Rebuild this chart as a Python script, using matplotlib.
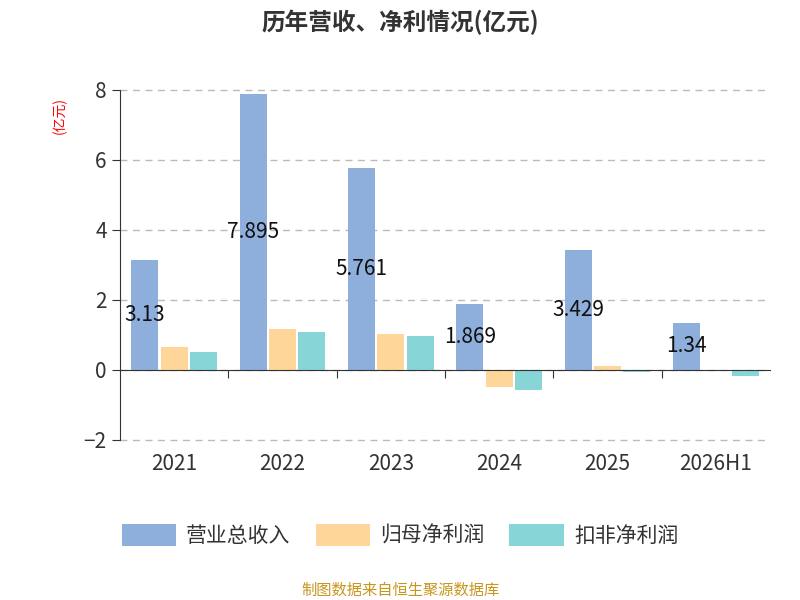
import matplotlib
matplotlib.use("Agg")
import matplotlib.pyplot as plt
import numpy as np

plt.rcParams['font.family'] = ['Noto Sans CJK SC', 'DejaVu Sans']

years = ["2021", "2022", "2023", "2024", "2025", "2026H1"]
revenue = [3.13, 7.895, 5.761, 1.869, 3.429, 1.34]
net_profit = [0.65, 1.17, 1.02, -0.48, 0.12, -0.03]
deducted = [0.52, 1.08, 0.96, -0.58, -0.05, -0.17]
series_names = ["营业总收入", "归母净利润", "扣非净利润"]
colors = ["#8eaedb", "#ffd699", "#88d5d8"]

fig = plt.figure(figsize=(8, 6), dpi=100)
ax = fig.add_axes([0.15, 0.267, 0.8125, 0.583])
x = np.arange(len(years))
w = 0.25
off = 0.27
for i, (vals, c, n) in enumerate(zip([revenue, net_profit, deducted], colors, series_names)):
    ax.bar(x + (i - 1) * off, vals, width=w, color=c, label=n)
for xi, v in zip(x, revenue):
    ax.text(xi - off, v / 2, f"{v:g}", ha='center', va='center', fontsize=15, color='#111111')

ax.set_xlim(-0.5, 5.5)
ax.set_ylim(-2, 8)
ax.set_yticks([-2, 0, 2, 4, 6, 8])
ax.tick_params(axis='y', labelsize=15, colors='#333333', length=6, direction='out')
ax.grid(axis='y', linestyle=(0, (5, 4)), color='#bbbbbb', linewidth=1)
for gl in ax.get_ygridlines():
    gl.set_clip_on(False)
ax.set_axisbelow(True)
for s in ['top', 'right']:
    ax.spines[s].set_visible(False)
ax.spines['left'].set_color('#333333')
ax.spines['bottom'].set_position(('data', 0))
ax.spines['bottom'].set_color('#333333')
ax.set_xticks(np.arange(0.5, 5.5, 1))
ax.set_xticklabels([])
ax.tick_params(axis='x', length=6, color='#333333')
for xi, y in zip(x, years):
    ax.text(xi, -0.07, y, transform=ax.get_xaxis_transform(), ha='center', va='center',
            fontsize=15, color='#333333')

fig.text(0.5, 0.962, "历年营收、净利情况(亿元)", ha='center', va='center', fontsize=17,
         fontweight='bold', color='#333333')
fig.text(0.075, 0.808, "(亿元)", rotation=90, ha='center', va='center', fontsize=10, color='red')
leg = fig.legend(loc='center', bbox_to_anchor=(0.5, 0.108), ncol=3, frameon=False,
                 fontsize=15, handlelength=2.6, handleheight=1.3, columnspacing=1.2,
                 handletextpad=0.5, labelcolor='#333333')
fig.text(0.5, 0.017, "制图数据来自恒生聚源数据库", ha='center', va='center', fontsize=11,
         color='#c8961e')
fig.savefig("out.png", dpi=100)
